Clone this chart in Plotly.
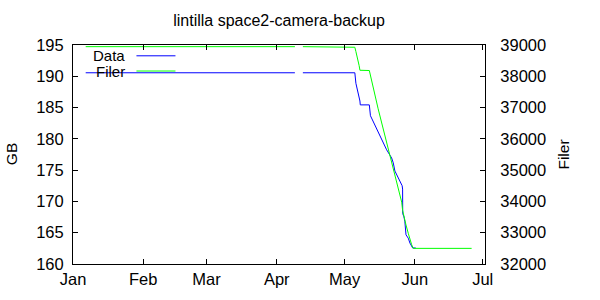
import plotly.graph_objects as go

# Data (GB) series
data_dates = [
    "2015-01-06 14:30", "2015-04-09 00:30", "2015-04-10 18:00", "2015-04-12 13:00",
    "2015-05-05 12:00", "2015-05-05 23:15", "2015-05-06 14:24", "2015-05-07 02:24",
    "2015-05-07 18:00", "2015-05-07 21:36", "2015-05-11 21:36", "2015-05-12 09:36",
    "2015-05-19 13:12", "2015-05-21 18:14", "2015-05-22 11:17", "2015-05-23 04:48",
    "2015-05-24 16:48", "2015-05-25 16:48", "2015-05-26 09:36", "2015-05-26 14:24",
    "2015-05-26 15:36", "2015-05-27 04:48", "2015-05-27 14:24", "2015-05-28 02:24",
    "2015-05-29 02:24", "2015-05-29 20:24", "2015-05-30 14:24", "2015-05-31 01:12",
    "2015-06-01 09:36",
]
data_gb = [
    190.56, 190.56, None, 190.56,
    190.56, 188.88, 187.94, 186.84,
    186.05, 185.43, 185.43, 183.70,
    178.25, 176.95, 176.16, 174.86,
    173.81, 173.02, 172.51, 171.97,
    168.05, 167.53, 166.75, 164.66,
    164.13, 163.34, 162.82, 162.56,
    162.56,
]

# Filer (file count) series
filer_dates = [
    "2015-01-06 14:30", "2015-04-09 00:30", "2015-04-10 18:00", "2015-04-12 13:00",
    "2015-05-05 02:30", "2015-05-05 12:00", "2015-05-05 23:15", "2015-05-06 13:12",
    "2015-05-07 00:00", "2015-05-07 09:36", "2015-05-07 18:00", "2015-05-11 21:36",
    "2015-05-15 19:12", "2015-05-20 07:12", "2015-05-21 19:12", "2015-05-23 04:48",
    "2015-05-23 23:17", "2015-05-25 02:24", "2015-05-26 04:48", "2015-05-26 14:24",
    "2015-05-27 04:48", "2015-05-28 02:24", "2015-05-29 02:24", "2015-05-29 20:24",
    "2015-05-30 14:24", "2015-05-31 07:12", "2015-06-26 02:24",
]
filer_count = [
    38947, 38947, None, 38947,
    38947, 38928, 38790, 38633,
    38507, 38341, 38193, 38184,
    36960, 35651, 35233, 34866,
    34552, 34238, 33978, 33717,
    33507, 33246, 32982, 32775,
    32618, 32500, 32500,
]

month_ticks = ["2015-01-01", "2015-02-01", "2015-03-01", "2015-04-01",
               "2015-05-01", "2015-06-01", "2015-07-01"]
month_labels = ["Jan", "Feb", "Mar", "Apr", "May", "Jun", "Jul"]
gb_ticks = [160, 165, 170, 175, 180, 185, 190, 195]
filer_ticks = [32000, 33000, 34000, 35000, 36000, 37000, 38000, 39000]

FONT = "Liberation Sans"
TICK_SIZE = 16.5
fig = go.Figure()
fig.add_trace(go.Scatter(x=data_dates, y=data_gb, mode="lines", name="Data",
                         line=dict(color="#0000ff", width=1), yaxis="y"))
fig.add_trace(go.Scatter(x=filer_dates, y=filer_count, mode="lines", name="Filer",
                         line=dict(color="#00ff00", width=1), yaxis="y2"))

axis_common = dict(showline=True, linecolor="black", linewidth=1, ticks="inside",
                   ticklen=5, tickcolor="black", showgrid=False, zeroline=False,
                   tickfont=dict(family=FONT, size=TICK_SIZE, color="black"))

fig.update_layout(
    width=600, height=300,
    margin=dict(l=73, r=115, t=45, b=32),
    paper_bgcolor="white", plot_bgcolor="white",
    font=dict(family=FONT, size=15, color="black"),
    showlegend=False,
    title=dict(text="lintilla space2-camera-backup", x=0.465, xanchor="center",
               y=1 - 20 / 300, yanchor="middle", yref="container",
               font=dict(family=FONT, size=16, color="black")),
    xaxis=dict(type="date", range=["2015-01-01", "2015-07-02"],
               tickvals=month_ticks, ticktext=month_labels, mirror="ticks",
               **axis_common),
    yaxis=dict(range=[160, 195], tickvals=gb_ticks, mirror=False,
               ticklabelstandoff=5, **axis_common),
    yaxis2=dict(range=[32000, 39000], tickvals=filer_ticks, tickformat="d",
                overlaying="y", side="right", ticklabelstandoff=11, **axis_common),
)

# Axis titles
fig.add_annotation(text="GB", textangle=-90, xref="paper", yref="paper",
                   x=(12 - 73.3) / 411.7, y=0.5, showarrow=False,
                   xanchor="center", yanchor="middle",
                   font=dict(family=FONT, size=15.5, color="black"))
fig.add_annotation(text="Filer", textangle=-90, xref="paper", yref="paper",
                   x=(563 - 73.3) / 411.7, y=0.5, showarrow=False,
                   xanchor="center", yanchor="middle",
                   font=dict(family=FONT, size=15.5, color="black"))

# Gnuplot-style key: text, then sample line
key_items = [("Data", "#0000ff", (268 - 56) / 223), ("Filer", "#00ff00", (268 - 71.5) / 223)]
for label, color, ky in key_items:
    fig.add_annotation(text=label, xref="paper", yref="paper", x=(127 - 73.3) / 411.7,
                       y=ky, showarrow=False, xanchor="right", yanchor="middle",
                       font=dict(family=FONT, size=15, color="black"))
    fig.add_shape(type="line", xref="paper", yref="paper",
                  x0=(136.7 - 73.3) / 411.7, x1=(175.7 - 73.3) / 411.7, y0=ky, y1=ky,
                  line=dict(color=color, width=1))

fig.write_html("out.html")
